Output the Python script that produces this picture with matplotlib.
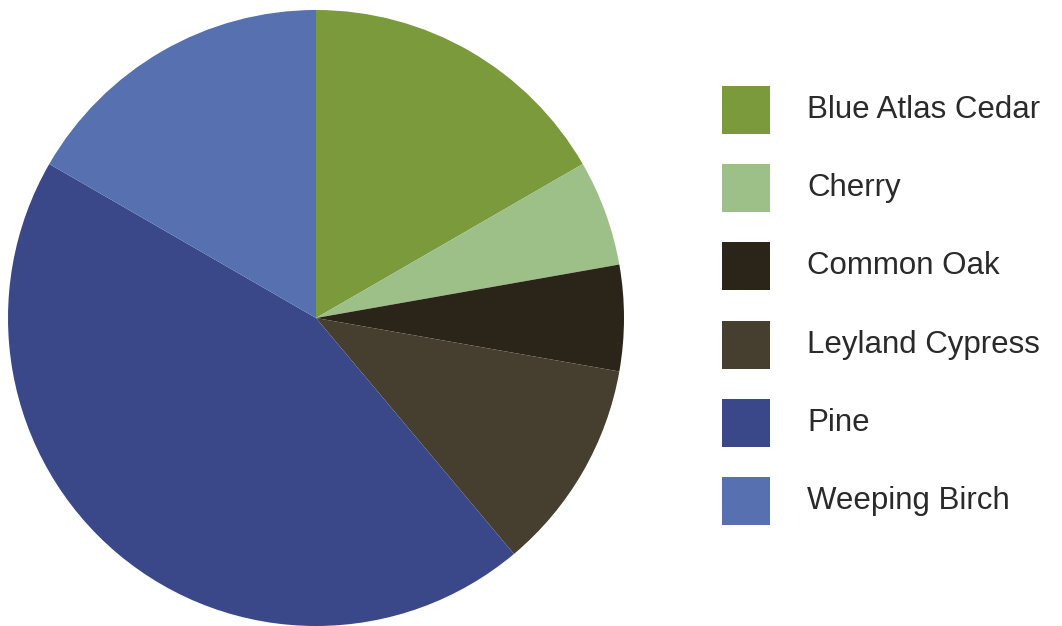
import matplotlib
matplotlib.use("Agg")
import matplotlib.pyplot as plt
from matplotlib.patches import Rectangle

labels = ["Blue Atlas Cedar", "Cherry", "Common Oak", "Leyland Cypress", "Pine", "Weeping Birch"]
values = [3, 1, 1, 2, 8, 3]
colors = ["#7a9a3c", "#9dbf88", "#2a2419", "#463e2e", "#3a4889", "#5670b0"]

W, H = 1062, 626
fig = plt.figure(figsize=(W / 100, H / 100), dpi=100)
fig.patch.set_facecolor("white")

cx, cy, r = 316, 318, 308
ax = fig.add_axes([(cx - r) / W, (H - cy - r) / H, 2 * r / W, 2 * r / H])
ax.pie(values, colors=colors, startangle=90, counterclock=False, radius=1,
       wedgeprops=dict(linewidth=0))
ax.set_xlim(-1, 1)
ax.set_ylim(-1, 1)
ax.set_aspect("equal")
ax.axis("off")

sw_x, sw_size = 722, 48
row0, step = 110, 78.2
for i, (lab, col) in enumerate(zip(labels, colors)):
    yc = row0 + i * step
    fig.patches.append(Rectangle(((sw_x) / W, (H - yc - sw_size / 2) / H),
                                 sw_size / W, sw_size / H, transform=fig.transFigure,
                                 facecolor=col, edgecolor="none"))
    fig.text(807 / W, (H - yc) / H, lab, fontsize=22.5, family="Liberation Sans",
             color="#2a2a2a", va="center", ha="left")

fig.savefig("out.png", dpi=100, facecolor="white")
